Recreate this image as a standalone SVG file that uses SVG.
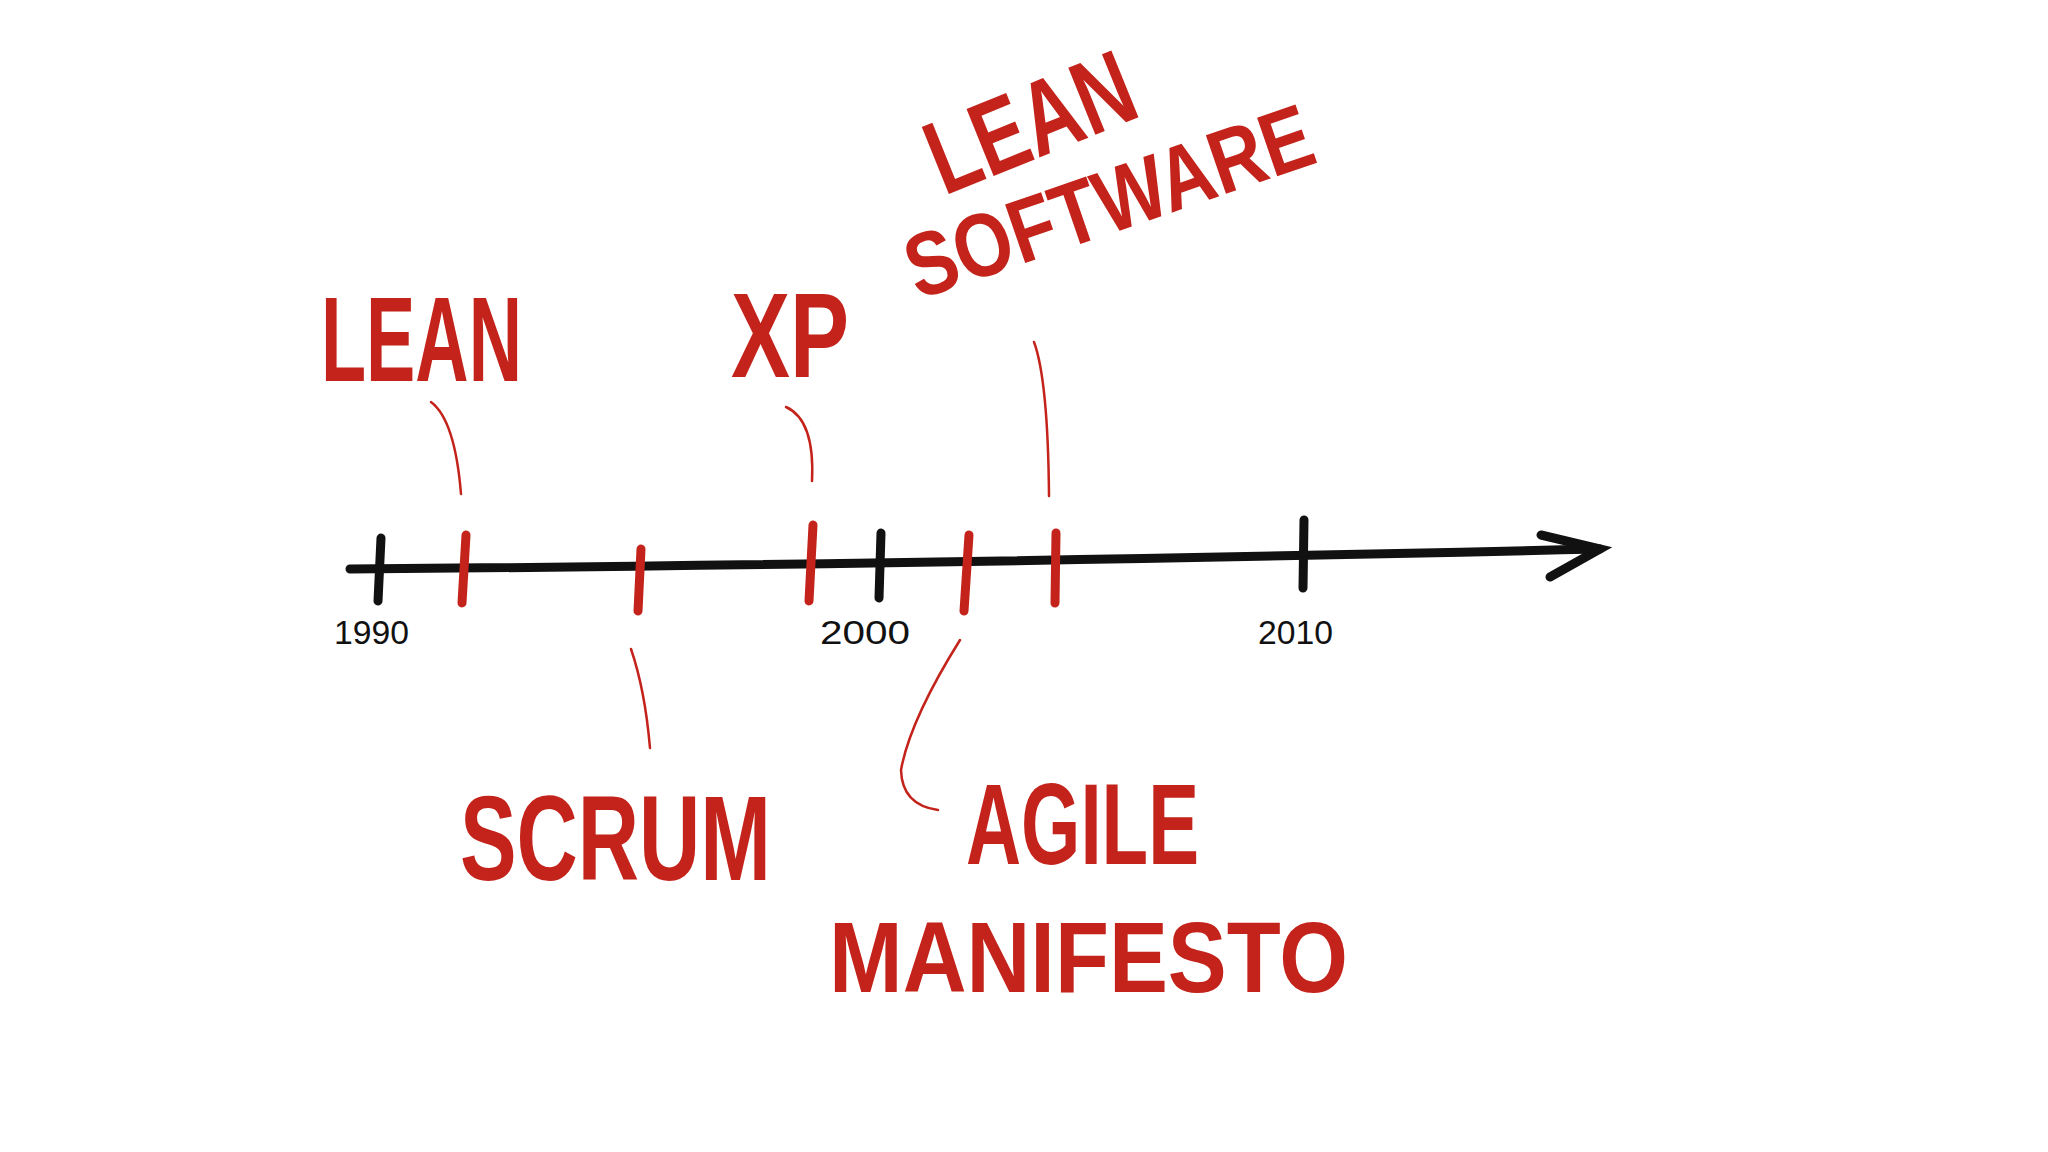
<svg xmlns="http://www.w3.org/2000/svg" width="2048" height="1152" viewBox="0 0 2048 1152">
<style>
.k{stroke:#111;stroke-width:9;stroke-linecap:round;fill:none}
.r{stroke:#c4231b;stroke-width:9;stroke-linecap:round;fill:none}
.c{stroke:#c4231b;stroke-width:2.5;stroke-linecap:round;fill:none}
.lbl{font-family:"Liberation Sans",sans-serif;font-weight:bold;fill:#c4231b}
.yr{font-family:"Liberation Sans",sans-serif;font-size:34px;fill:#111}
</style>
<rect width="2048" height="1152" fill="#fff"/>
<g id="timeline">
<path class="k" d="M350 569 Q900 565 1600 549"/>
<path class="k" d="M1541 535 L1600 549 L1550 577"/>
<path class="k" d="M381 538 L378 601"/>
<path class="k" d="M881 533 L879 598"/>
<path class="k" d="M1304 520 L1303 588"/>
<text class="yr" x="334" y="644" textLength="75" lengthAdjust="spacingAndGlyphs">1990</text>
<text class="yr" x="820" y="644" textLength="90" lengthAdjust="spacingAndGlyphs">2000</text>
<text class="yr" x="1258" y="644" textLength="75" lengthAdjust="spacingAndGlyphs">2010</text>
</g>
<g id="ticks">
<path class="r" d="M466 535 L462 603"/>
<path class="r" d="M641 549 L638 611"/>
<path class="r" d="M813 525 L809 601"/>
<path class="r" d="M969 535 L964 611"/>
<path class="r" d="M1056 533 L1055 603"/>
</g>
<g id="connectors">
<path class="c" d="M431 402 Q455 420 461 494"/>
<path class="c" d="M786 407 Q815 420 812 481"/>
<path class="c" d="M1034 342 Q1048 380 1049 496"/>
<path class="c" d="M631 649 Q645 690 650 748"/>
<path class="c" d="M960 640 Q910 720 901 770 Q902 805 938 810"/>
</g>
<g id="lean"><text class="lbl" x="321" y="381" font-size="120" textLength="201" lengthAdjust="spacingAndGlyphs">LEAN</text></g>
<g id="xp"><text class="lbl" x="731" y="377" font-size="120" textLength="118" lengthAdjust="spacingAndGlyphs">XP</text></g>
<g id="leansoftware">
<text class="lbl" x="944" y="196" font-size="105" textLength="215" lengthAdjust="spacingAndGlyphs" transform="rotate(-22 944 196)">LEAN</text>
<text class="lbl" x="918" y="300" font-size="90" textLength="425" lengthAdjust="spacingAndGlyphs" transform="rotate(-19 918 300)">SOFTWARE</text>
</g>
<g id="scrum"><text class="lbl" x="460" y="880" font-size="120" textLength="311" lengthAdjust="spacingAndGlyphs">SCRUM</text></g>
<g id="agile">
<text class="lbl" x="966" y="864" font-size="115" textLength="233" lengthAdjust="spacingAndGlyphs">AGILE</text>
<text class="lbl" x="829" y="992" font-size="100" textLength="519" lengthAdjust="spacingAndGlyphs">MANIFESTO</text>
</g>
</svg>
